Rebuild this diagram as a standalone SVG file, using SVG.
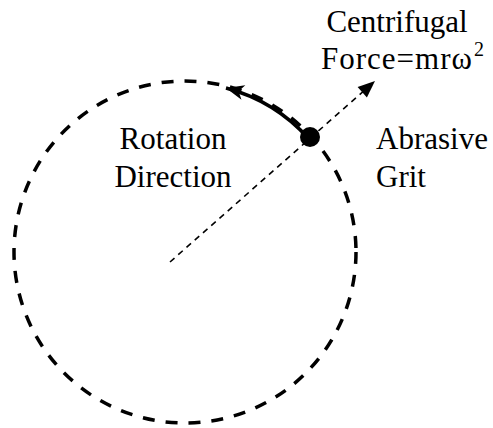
<svg xmlns="http://www.w3.org/2000/svg" width="493" height="428" viewBox="0 0 493 428">
<style>
.lbl{font-family:"Liberation Serif","Times New Roman",serif;font-size:31px;fill:#000}
.sup{font-family:"Liberation Serif","Times New Roman",serif;font-size:20px;fill:#000}
</style>
<defs>
<marker id="headThick" markerUnits="userSpaceOnUse" markerWidth="24" markerHeight="20" viewBox="-20 -10 24 20" refX="0" refY="0" orient="auto">
<path d="M0,0 L-18,-7.5 L-13,0 L-18,7.5 Z" fill="#000"/>
</marker>
<marker id="headThin" markerUnits="userSpaceOnUse" markerWidth="24" markerHeight="20" viewBox="-20 -10 24 20" refX="0" refY="0" orient="auto">
<path d="M0,0 L-17,-7 L-17,7 Z" fill="#000"/>
</marker>
</defs>
<rect width="493" height="428" fill="#fff"/>
<g id="wheel">
<circle cx="185" cy="252" r="171" fill="none" stroke="#000" stroke-width="3.5" stroke-dasharray="12 11"/>
</g>
<g id="connectors">
<path id="radius" d="M170,262 L375,81" fill="none" stroke="#000" stroke-width="1.6" stroke-dasharray="6 5" marker-end="url(#headThin)"/>
<path id="rotation" d="M309,139 A169,169 0 0 0 226,88" fill="none" stroke="#000" stroke-width="3.5" marker-end="url(#headThick)"/>
</g>
<g id="grit">
<circle cx="310" cy="137" r="10" fill="#000"/>
</g>
<g id="label-rotation">
<text class="lbl" x="173" y="149" text-anchor="middle">Rotation</text>
<text class="lbl" x="173" y="187" text-anchor="middle">Direction</text>
</g>
<g id="label-grit">
<text class="lbl" x="376" y="149">Abrasive</text>
<text class="lbl" x="376" y="187">Grit</text>
</g>
<g id="label-force">
<text class="lbl" x="397" y="32" text-anchor="middle">Centrifugal</text>
<text class="lbl" x="321" y="69" letter-spacing="1">Force=mrω<tspan class="sup" dx="1" dy="-13">2</tspan></text>
</g>
</svg>
